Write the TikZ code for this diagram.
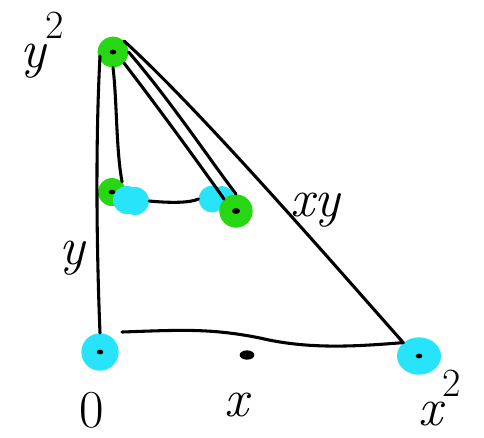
\documentclass[tikz,border=0pt]{standalone}
\usepackage{fontspec}
\usetikzlibrary{shapes.geometric}
\definecolor{cy}{RGB}{40,228,250}
\definecolor{gr}{RGB}{40,215,20}
\newcommand{\sqr}{\raisebox{0.55em}{\fontsize{30}{30}\selectfont\upshape 2}}
\begin{document}
\begin{tikzpicture}[x=0.75pt,y=-0.75pt,
  pen/.style={line width=2.3pt,line cap=round,line join=round,black},
  cdot/.style={ellipse,fill=cy,inner sep=0pt,minimum width=#1,minimum height=#1},
  gdot/.style={circle,fill=gr,inner sep=0pt,minimum size=#1},
  lab/.style={font=\fontsize{40}{40}\selectfont\itshape,inner sep=0pt}]
\useasboundingbox (0,0) rectangle (484,437);
% dots
\node[gdot=23pt] (T) at (113,52) {};
\node[gdot=21pt] (M) at (112,192) {};
\node[cdot=21pt] (C1) at (127,200) {};
\node[cdot=21pt] (C2) at (135,201) {};
\node[cdot=20pt] (C3) at (212,199) {};
\node[cdot=18pt] (C4) at (222,198) {};
\node[gdot=25pt] (G) at (236,211) {};
\node[cdot=28pt] (O) at (100,352) {};
\node[cdot=28pt,minimum width=33pt] (X2) at (419,356) {};
\node[ellipse,fill=black,inner sep=0pt,minimum width=11pt,minimum height=7pt] (D) at (247,355) {};
% centre marks
\foreach \n in {T,M,O,X2}{\fill (\n.center) ellipse (2.5pt and 1.8pt);}
\fill (G.center) ellipse (3pt and 2.2pt);
% lines
\coordinate (Ltop) at (100,56);
\draw[pen] (Ltop) .. controls (95,150) and (97,260) .. (O.north);
\draw[pen] (T.south) .. controls (117,100) and (116,150) .. (M.north east);
\draw[pen] (C2.east) .. controls (170,203) and (190,203) .. (C3.west);
\draw[pen] (T.north east) .. controls (200,110) and (330,260) .. (X2.north west);
\draw[pen] (T.east) .. controls (170,100) and (210,160) .. (G.north);
\draw[pen] (T.south east) .. controls (160,110) and (200,165) .. (G.north west);
\coordinate (Bst) at (122,332);
\draw[pen] (Bst) .. controls (180,330) and (210,328) .. (260,338) .. controls (310,350) and (360,346) .. (X2.north west);
% labels
\node[lab] (l0) at (92,410) {\upshape 0};
\node[lab] (lx) at (236,405) {x};
\node[lab] (lx2) at (440,398) {x\sqr};
\node[lab] (ly2) at (42,45) {y\sqr};
\node[lab] (ly) at (72,258) {y};
\node[lab] (lxy) at (315,210) {xy};
\end{tikzpicture}
\end{document}
